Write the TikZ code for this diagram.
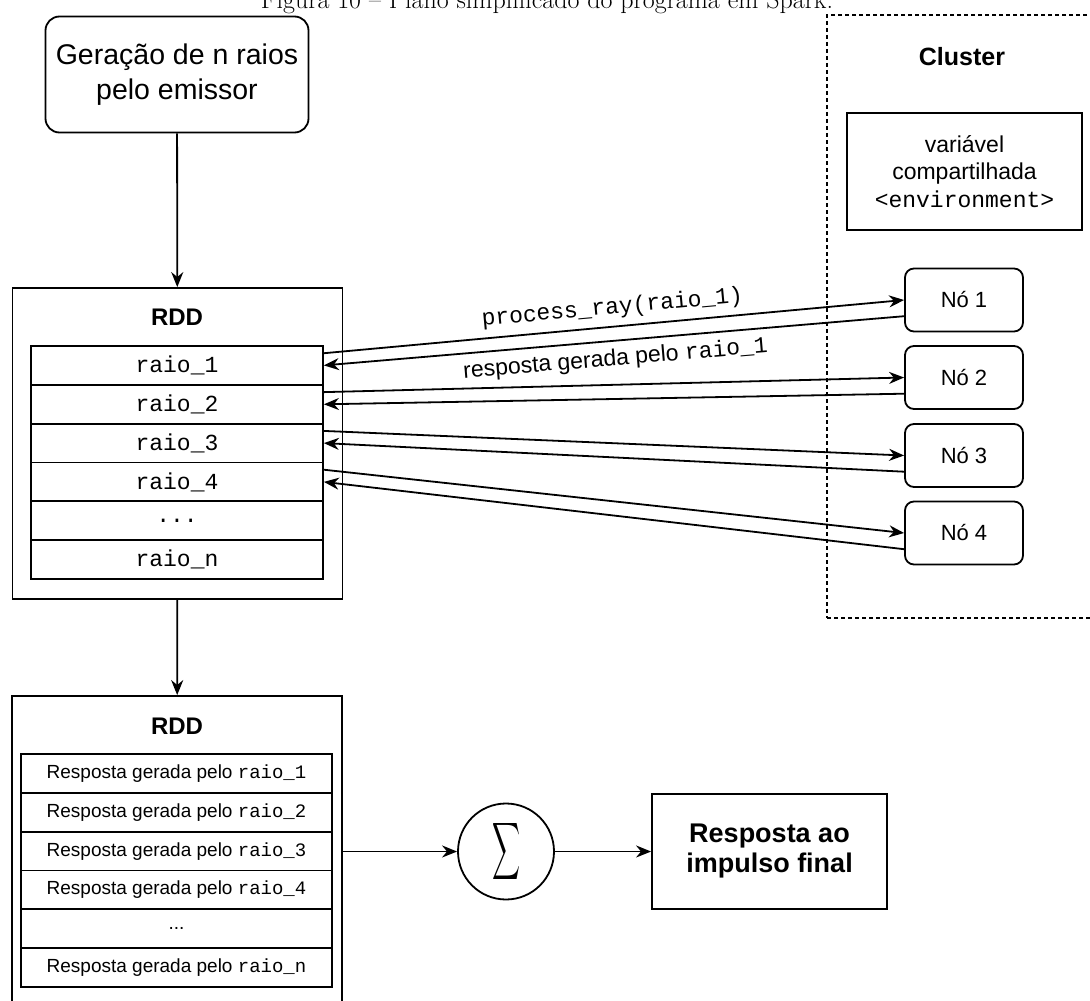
\documentclass[tikz,border=0pt]{standalone}
\usepackage{fontspec}
\setsansfont{Liberation Sans}
\setmonofont{Liberation Mono}
\usetikzlibrary{arrows.meta,calc}

\begin{document}
\begin{tikzpicture}[
        x=1pt, y=-1pt,
        line width=1.8pt,
        >={Stealth[length=15pt,width=12pt]},
        caption/.style={anchor=base, font=\rmfamily\fontsize{26}{30}\selectfont},
        emitter/.style={draw, rounded corners=14pt, align=center, minimum width=263pt, minimum height=116pt, font=\sffamily\fontsize{28.5}{35}\selectfont},
        rdd/.style={draw, minimum width=330pt, minimum height=311pt},
        heading/.style={font=\sffamily\bfseries\fontsize{24}{28}\selectfont},
        raio/.style={draw, minimum width=292pt, minimum height=38.8pt, inner sep=0pt, font=\ttfamily\fontsize{23}{23}\selectfont},
        resp/.style={draw, minimum width=311pt, minimum height=38.8pt, inner sep=0pt, font=\sffamily\fontsize{19}{19}\selectfont},
        cluster/.style={draw, dash pattern=on 4pt off 3pt, line width=1.4pt, minimum width=280pt, minimum height=603pt},
        shared/.style={draw, align=center, minimum width=235pt, minimum height=117pt, font=\sffamily\fontsize{23}{27.5}\selectfont},
        worker/.style={draw, rounded corners=9pt, minimum width=118pt, minimum height=63pt, font=\sffamily\fontsize{22}{26}\selectfont},
        soma/.style={draw, circle, minimum size=96pt, inner sep=0pt},
        final/.style={draw, align=center, minimum width=235pt, minimum height=115pt, font=\sffamily\bfseries\fontsize{27}{30}\selectfont},
        msg/.style={sloped, inner sep=2pt, font=\sffamily\fontsize{23}{23}\selectfont}
      ]
      \useasboundingbox (0,0) rectangle (1090,1001);
      \clip (0,0) rectangle (1090,1001);

      \node[caption] (caption) at (547,9) {Figura 10 – Plano simplificado do programa em Spark.};

      \node[emitter] (gen) at (177,74.5) {Geração de n raios\\pelo emissor};

      \node[rdd] (rdd1) at (177.5,443.5) {};
      \node[heading] (rdd1-title) at (177,317) {RDD};
      \node[raio] (r1) at (177,365.4) {raio\_1};
      \node[raio] (r2) at (177,404.3) {raio\_2};
      \node[raio] (r3) at (177,443.1) {raio\_3};
      \node[raio] (r4) at (177,481.9) {raio\_4};
      \node[raio] (r5) at (177,520.8) {...};
      \node[raio] (r6) at (177,559.6) {raio\_n};

      \node[rdd] (rdd2) at (177,851.5) {};
      \node[heading] (rdd2-title) at (177,726) {RDD};
      \node[resp] (s1) at (176.5,773.4) {Resposta gerada pelo \texttt{raio\_1}};
      \node[resp] (s2) at (176.5,812.3) {Resposta gerada pelo \texttt{raio\_2}};
      \node[resp] (s3) at (176.5,851.1) {Resposta gerada pelo \texttt{raio\_3}};
      \node[resp] (s4) at (176.5,889.9) {Resposta gerada pelo \texttt{raio\_4}};
      \node[resp] (s5) at (176.5,928.8) {...};
      \node[resp] (s6) at (176.5,967.6) {Resposta gerada pelo \texttt{raio\_n}};

      \node[cluster] (cluster) at (967,316.5) {};
      \node[heading, font=\sffamily\bfseries\fontsize{25}{28}\selectfont] (cluster-title) at (962,57) {Cluster};
      \node[shared] (env) at (964.5,171.5) {variável\\compartilhada\\\texttt{<environment>}};
      \node[worker] (n1) at (964,300) {Nó 1};
      \node[worker] (n2) at (964,377.5) {Nó 2};
      \node[worker] (n3) at (964,455.5) {Nó 3};
      \node[worker] (n4) at (964,533) {Nó 4};

      \node[soma] (sum) at (506,851.5) {\resizebox{28pt}{42pt}{$\displaystyle\sum$}};
      \node[final] (final) at (769.5,851.5) {Resposta ao\\impulso final};

      \draw[->] (gen) -- (rdd1);
      \draw[->] (rdd1) -- (rdd2);

      \draw[->] ($(r1.north east)!0.2!(r1.south east)$) -- node[msg, above=5pt] {\ttfamily process\_ray(raio\_1)} (n1.west);
      \draw[->] ($(n1.north west)!0.75!(n1.south west)$) -- node[msg, below=5pt] {resposta gerada pelo \texttt{raio\_1}} (r1.east);
      \draw[->] ($(r2.north east)!0.2!(r2.south east)$) -- (n2.west);
      \draw[->] ($(n2.north west)!0.75!(n2.south west)$) -- (r2.east);
      \draw[->] ($(r3.north east)!0.2!(r3.south east)$) -- (n3.west);
      \draw[->] ($(n3.north west)!0.75!(n3.south west)$) -- (r3.east);
      \draw[->] ($(r4.north east)!0.2!(r4.south east)$) -- (n4.west);
      \draw[->] ($(n4.north west)!0.75!(n4.south west)$) -- (r4.east);

      \draw[->] (rdd2) -- (sum);
      \draw[->] (sum) -- (final);
    \end{tikzpicture}
\end{document}
